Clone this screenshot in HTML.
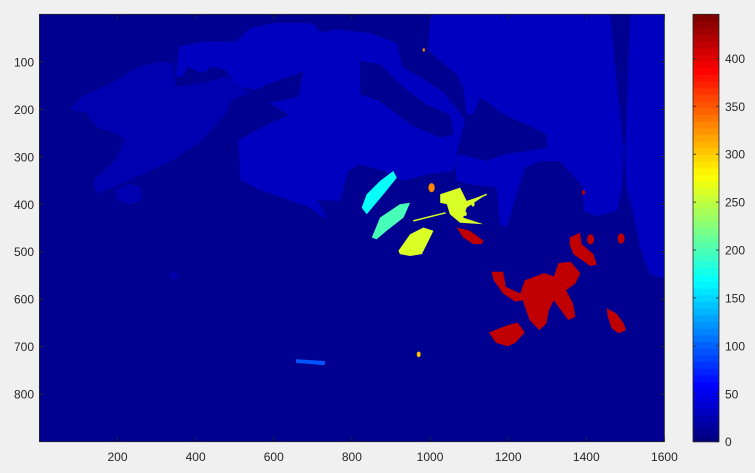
<!DOCTYPE html>
<html><head><meta charset="utf-8"><style>
body{margin:0;background:#f0f0f0;}
svg{display:block;font-family:"Liberation Sans",sans-serif;}
</style></head><body>
<svg id="chart" width="755" height="473" viewBox="0 0 755 473" xmlns="http://www.w3.org/2000/svg">
<rect x="0" y="0" width="755" height="473" fill="#f0f0f0"/>
<g id="plot"></g>
<g id="axes"></g>
<g id="cbar"></g>
</svg>
<script>
// ---- data (image coordinates in data units, values on colour scale) ----
const xTicks = [200,400,600,800,1000,1200,1400,1600];
const yTicks = [100,200,300,400,500,600,700,800];
const cTicks = [0,50,100,150,200,250,300,350,400];
const backgroundValue = 9;
const regionValues = [33, 33, 33, 9, 21, 21, 21, 412, 412, 412, 412, 262, 262, 170, 196, 95, 412];
const regionNames = ["light-region-west","light-region-east","light-region-strip","dark-channel","mid-region-left","mid-blob-a","mid-blob-b","red-cluster","red-lower","red-hook","red-right","yellow-upper","yellow-lower","cyan-streak","green-streak","blue-blob","red-center"];
const regionShapes = [
 [[349,131],[358,68],[417,58],[503,58],[540,29],[602,18],[700,19],[719,37],[762,32],[848,40],[916,61],[928,110],[972,131],[1033,163],[1070,201],[1089,223],[1068,295],[1060,330],[991,337],[932,351],[881,330],[821,316],[790,330],[770,393],[713,391],[737,433],[688,405],[639,391],[565,370],[515,349],[509,265],[589,230],[639,212],[589,187],[663,173],[676,121],[614,138],[552,159],[503,152],[478,117],[441,110],[417,124],[380,110],[367,131]],
 [[1000,0],[1461,0],[1478,140],[1495,281],[1491,365],[1478,414],[1427,425],[1393,414],[1393,365],[1333,309],[1282,309],[1243,323],[1222,379],[1196,449],[1179,442],[1171,365],[1102,358],[1068,351],[1064,302],[1077,295],[1145,309],[1188,295],[1247,288],[1299,281],[1299,253],[1247,232],[1188,211],[1145,183],[1128,176],[1111,211],[1094,211],[1085,154],[1068,126],[1026,98],[996,77]],
 [[1512,0],[1600,0],[1600,555],[1563,548],[1538,491],[1521,421],[1504,365],[1499,295],[1504,211]],
 [[821,98],[872,105],[932,154],[991,190],[1051,211],[1060,253],[1026,260],[949,232],[872,183],[821,168]],
 [[78,201],[108,173],[182,145],[256,110],[306,100],[343,103],[349,152],[417,145],[478,131],[540,166],[491,180],[478,208],[417,265],[343,307],[269,335],[195,363],[145,377],[139,349],[195,307],[219,265],[195,251],[145,237],[121,208]],
 [[195,370],[230,356],[262,365],[262,392],[230,400],[200,392]],
 [[332,545],[350,542],[356,552],[340,560]],
 [[1157,542],[1187,542],[1194,574],[1231,588],[1243,560],[1292,545],[1317,552],[1329,524],[1360,521],[1385,545],[1372,567],[1348,581],[1366,609],[1372,637],[1354,644],[1335,623],[1317,602],[1304,623],[1298,651],[1280,665],[1255,644],[1237,602],[1218,605],[1187,588],[1163,560]],
 [[1151,670],[1194,656],[1224,649],[1243,670],[1218,692],[1200,699],[1169,692]],
 [[1358,470],[1384,460],[1388,484],[1418,505],[1427,527],[1410,530],[1367,505],[1357,484]],
 [[1452,619],[1477,630],[1496,651],[1502,665],[1483,672],[1465,661],[1455,637]],
 [[1026,379],[1077,365],[1094,393],[1145,379],[1094,407],[1085,428],[1137,442],[1077,439],[1051,421],[1043,400],[1026,397]],
 [[919,498],[949,463],[983,449],[1009,456],[992,484],[979,505],[949,509],[923,505]],
 [[825,407],[838,379],[872,351],[906,330],[915,344],[881,379],[838,421]],
 [[851,470],[872,428],[923,400],[949,397],[932,428],[889,456],[863,474]],
 [[657,726],[731,730],[731,739],[657,734]],
 [[1068,449],[1102,456],[1137,477],[1132,484],[1111,484],[1085,470]]
];
const dotValues = [412, 412, 412, 330, 330, 300, 262, 262];
const dotCenters = [[1411,474],[1489,472],[1393,375],[984,75],[1004,365],[971,716],[1090,420],[1110,400]];
const dotRadii = [9, 9, 4, 3, 8, 5, 4, 4];

// ---- scales ----
const X0=39.4, X1=664.4, Y0=14.3, Y1=441.7, XMAX=1600, YMAX=900;
const CMAX=446, CX0=693, CX1=719;
function sx(d){return X0+d*(X1-X0)/XMAX;}
function sy(d){return Y0+d*(Y1-Y0)/YMAX;}
function cy(v){return Y1-v*(Y1-Y0)/CMAX;}
function jet(v){
  let t=Math.max(0,Math.min(1,v/CMAX));
  t=Math.min(63,Math.floor(t*64))/63;
  const c=x=>Math.round(255*Math.max(0,Math.min(1,1.5-Math.abs(x))));
  return `rgb(${c(4*t-3)},${c(4*t-2)},${c(4*t-1)})`;
}
const NS="http://www.w3.org/2000/svg";
function mk(tag,attrs,parent){const e=document.createElementNS(NS,tag);for(const k in attrs)e.setAttribute(k,attrs[k]);parent.appendChild(e);return e;}

const plot=document.getElementById('plot');
const bg=mk('rect',{x:X0,y:Y0,width:X1-X0,height:Y1-Y0,fill:jet(backgroundValue)},plot);


regionShapes.forEach((pts,i)=>{
  const p=mk('polygon',{points:pts.map(q=>sx(q[0]).toFixed(1)+','+sy(q[1]).toFixed(1)).join(' '),fill:jet(regionValues[i])},plot);
  
  
});
// thin yellow streaks
[[[957,435],[1040,418]],[[1085,400],[1145,379]]].forEach(l=>{
  const e=mk('line',{x1:sx(l[0][0]),y1:sy(l[0][1]),x2:sx(l[1][0]),y2:sy(l[1][1]),stroke:jet(262),'stroke-width':1.5},plot);
  
  
});
dotCenters.forEach((c,i)=>{
  const e=mk('ellipse',{cx:sx(c[0]),cy:sy(c[1]),rx:dotRadii[i]*(X1-X0)/XMAX,ry:dotRadii[i]*(Y1-Y0)/YMAX*1.2,fill:jet(dotValues[i])},plot);
  
  
});

// ---- axes ----
const ax=document.getElementById('axes');
const box=mk('rect',{x:X0,y:Y0,width:X1-X0,height:Y1-Y0,fill:'none',stroke:'#262626','stroke-width':0.8},ax);


xTicks.forEach(t=>{
  const x=sx(t);
  mk('line',{x1:x,y1:Y1,x2:x,y2:Y1-5,stroke:'#262626','stroke-width':0.8},ax);
  mk('line',{x1:x,y1:Y0,x2:x,y2:Y0+5,stroke:'#262626','stroke-width':0.8},ax);
  const tx=mk('text',{x:x,y:461,'text-anchor':'middle','font-size':12,fill:'#262626'},ax);
  tx.textContent=t;
  
  
});
yTicks.forEach(t=>{
  const y=sy(t);
  mk('line',{x1:X0,y1:y,x2:X0+5,y2:y,stroke:'#262626','stroke-width':0.8},ax);
  mk('line',{x1:X1,y1:y,x2:X1-5,y2:y,stroke:'#262626','stroke-width':0.8},ax);
  const tx=mk('text',{x:34,y:y+4.5,'text-anchor':'end','font-size':12,fill:'#262626'},ax);
  tx.textContent=t;
  
  
});

// ---- colorbar ----
const cb=document.getElementById('cbar');
for(let i=0;i<64;i++){
  const v0=i*CMAX/64, v1=(i+1)*CMAX/64;
  const r=mk('rect',{x:CX0,y:cy(v1),width:CX1-CX0,height:cy(v0)-cy(v1)+0.5,fill:jet(v0+1)},cb);
  
  
}
const cbf=mk('rect',{x:CX0,y:Y0,width:CX1-CX0,height:Y1-Y0,fill:'none',stroke:'#262626','stroke-width':0.8},cb);


cTicks.forEach(t=>{
  const y=cy(t);
  mk('line',{x1:CX1,y1:y,x2:CX1-3,y2:y,stroke:'#262626','stroke-width':0.8},cb);
  mk('line',{x1:CX0,y1:y,x2:CX0+3,y2:y,stroke:'#262626','stroke-width':0.8},cb);
  const tx=mk('text',{x:725,y:y+4.5,'font-size':12,fill:'#262626'},cb);
  tx.textContent=t;
  
  
});
</script>
</body></html>
